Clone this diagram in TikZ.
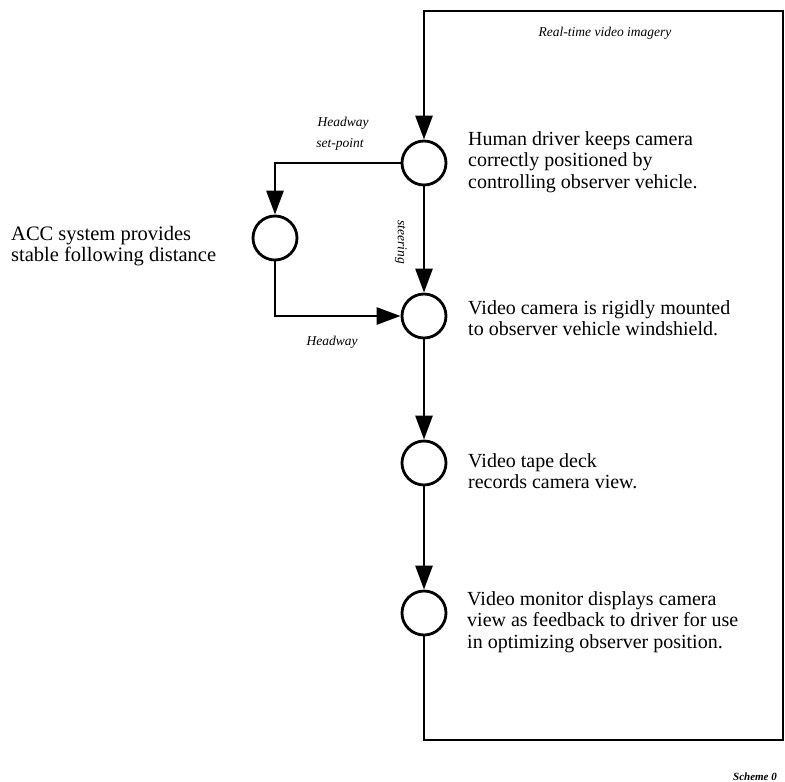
\documentclass[tikz,border=0pt]{standalone}
\usepackage{fontspec}
\setmainfont{Liberation Serif}
\usetikzlibrary{arrows.meta}
\begin{document}
\begin{tikzpicture}[x=1pt,y=-1pt,
  circ/.style={circle,draw,line width=2.8pt,minimum size=44pt,inner sep=0pt},
  conn/.style={line width=2.8pt},
  arr/.style={conn,-{Triangle[length=24pt,width=17pt]}},
  desc/.style={anchor=west,align=left,inner sep=0pt,font=\fontsize{20}{21.5}\selectfont},
  lab/.style={inner sep=0pt,font=\fontsize{13.5}{21}\selectfont\itshape}]
\useasboundingbox (0,0) rectangle (785,782);
\node[circ] (c1) at (424,163) {};
\node[circ] (acc) at (275,238) {};
\node[circ] (c2) at (424,316) {};
\node[circ] (c3) at (424,463) {};
\node[circ] (c4) at (424,613) {};
\coordinate (tl) at (424,11);
\coordinate (tr) at (783,11);
\coordinate (br) at (783,740);
\coordinate (bl) at (424,740);
\draw[arr,line join=miter] (c4.south) -- (bl) -- (br) -- (tr) -- (tl) -- (c1.north);
\draw[arr] (c1.west) -| (acc.north);
\draw[arr] (acc.south) |- (c2.west);
\draw[arr] (c1.south) -- (c2.north);
\draw[arr] (c2.south) -- (c3.north);
\draw[arr] (c3.south) -- (c4.north);
\node[lab] (rt) at (605,33) {Real-time video imagery};
\node[lab] (hs1) at (343,123) {Headway};
\node[lab] (hs2) at (340,144) {set-point};
\node[lab,rotate=-90] (st) at (401,242) {steering};
\node[lab] (hw) at (332,342) {Headway};
\node[desc] (t1) at (468,162) {Human driver keeps camera\\correctly positioned by\\controlling observer vehicle.};
\node[desc] (t2) at (468,318) {Video camera is rigidly mounted\\to observer vehicle windshield.};
\node[desc] (t3) at (468,471) {Video tape deck\\records camera view.};
\node[desc] (t4) at (467,622) {Video monitor displays camera\\view as feedback to driver for use\\in optimizing observer position.};
\node[desc,font=\fontsize{20.5}{21.5}\selectfont] (tacc) at (11,246) {ACC system provides\\stable following distance};
\node[inner sep=0pt,font=\fontsize{11}{12}\selectfont\bfseries\itshape] (sch) at (755,777) {Scheme 0};
\end{tikzpicture}
\end{document}
